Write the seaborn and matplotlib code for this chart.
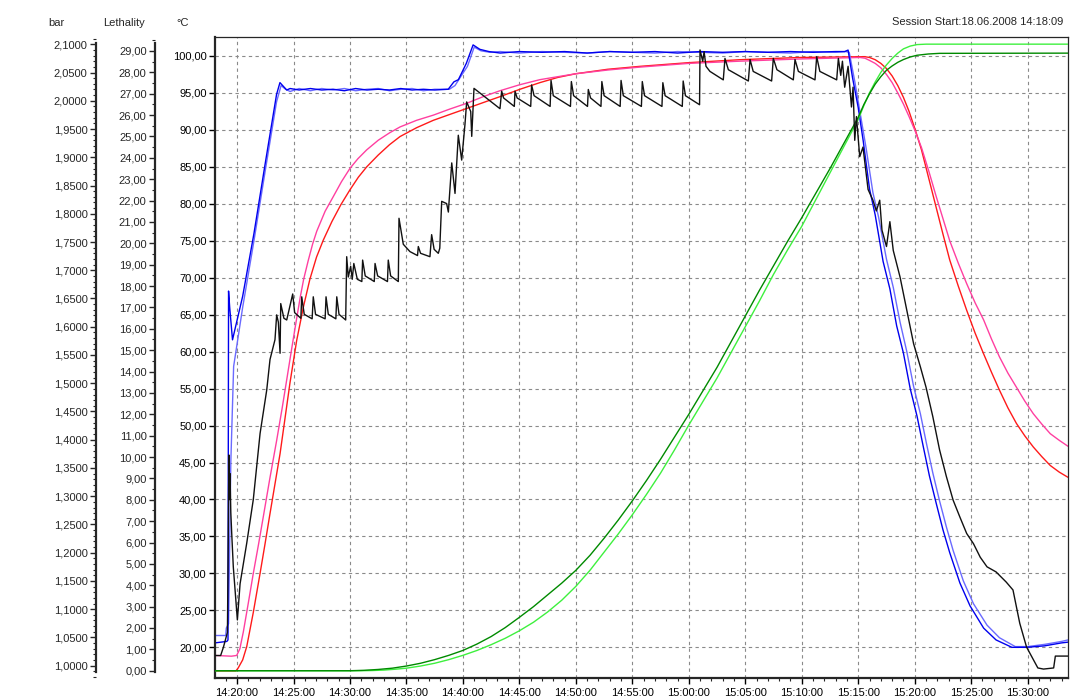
import matplotlib
matplotlib.use("Agg")
import matplotlib.pyplot as plt
import seaborn as sns
from matplotlib.ticker import MultipleLocator, FuncFormatter

# ---------------- data (time = minutes after 14:00) ----------------
# Temperature probe pair (deg C)
blue1_t = [18.05, 19.10, 19.20, 19.25, 19.35, 19.60, 20.50, 21.50, 22.50, 23.50, 23.80, 24.10, 24.40, 24.70,
           25.50, 26.50, 27.50, 28.50, 29.50, 30.50, 31.50, 32.50, 33.50, 34.50, 35.50, 36.50, 37.50, 38.70,
           39.20, 39.60, 40.30, 40.90, 41.50, 42.30, 43.30, 45.00, 47.00, 49.00, 51.00, 53.00, 55.00, 57.00,
           59.00, 61.00, 63.00, 65.00, 67.00, 69.00, 71.00, 73.00, 73.80, 74.10, 74.50, 75.00, 75.44, 76.00,
           76.50, 77.20, 77.80, 78.40, 79.00, 79.60, 80.20, 80.75, 81.30, 81.90, 82.50, 83.10, 84.00, 84.90,
           86.10, 87.20, 88.60, 89.90, 91.50, 93.00, 93.57]
blue1_c = [20.6, 20.8, 21.0, 68.2, 66.0, 61.6, 67.5, 76.0, 85.5, 94.8, 96.4, 95.9, 95.4, 95.6,
           95.4, 95.6, 95.4, 95.5, 95.3, 95.6, 95.4, 95.5, 95.4, 95.6, 95.4, 95.5, 95.4, 95.5,
           96.5, 96.8, 99.0, 101.5, 100.9, 100.6, 100.4, 100.6, 100.5, 100.6, 100.4, 100.6, 100.5, 100.6,
           100.4, 100.6, 100.5, 100.6, 100.5, 100.6, 100.5, 100.6, 100.6, 100.8, 97.0, 93.0, 88.5, 82.0,
           78.5, 72.2, 68.5, 63.5, 59.8, 55.0, 51.3, 47.2, 43.2, 39.5, 35.9, 32.8, 28.7, 25.6,
           22.6, 21.0, 20.0, 20.0, 20.2, 20.6, 20.7]

blue2_t = [18.05, 19.00, 19.05, 19.25, 19.45, 19.70, 20.50, 21.50, 22.50, 23.50, 23.90, 24.30, 24.70,
           25.50, 26.50, 27.50, 28.50, 29.50, 30.50, 31.50, 32.50, 33.50, 34.50, 35.50, 36.50, 37.50, 38.80,
           39.30, 39.80, 40.40, 41.00, 41.60, 42.40, 43.30, 45.00, 47.00, 49.00, 51.00, 53.00, 55.00, 57.00,
           59.00, 61.00, 63.00, 65.00, 67.00, 69.00, 71.00, 73.00, 73.90, 74.20, 74.70, 75.20, 75.70, 76.30,
           76.80, 77.50, 78.10, 78.70, 79.30, 79.90, 80.50, 81.05, 81.60, 82.20, 82.80, 83.40, 84.30, 85.20,
           86.40, 87.50, 88.90, 90.00, 91.50, 93.00, 93.57]
blue2_c = [21.6, 21.6, 22.6, 23.2, 45.0, 58.0, 66.0, 75.0, 84.5, 93.8, 96.0, 95.5, 95.2,
           95.6, 95.3, 95.6, 95.4, 95.6, 95.3, 95.5, 95.6, 95.3, 95.5, 95.6, 95.3, 95.5, 95.5,
           96.0, 97.2, 98.6, 101.2, 100.7, 100.5, 100.6, 100.4, 100.6, 100.5, 100.4, 100.6, 100.5, 100.4,
           100.6, 100.5, 100.4, 100.6, 100.5, 100.4, 100.6, 100.5, 100.6, 100.5, 96.5, 92.0, 87.5, 81.5,
           78.2, 72.5, 68.7, 64.0, 60.0, 55.3, 51.6, 47.5, 43.6, 39.8, 36.3, 33.1, 29.0, 25.9,
           23.0, 21.3, 20.1, 20.1, 20.4, 20.8, 21.0]

# Product core temperatures (deg C)
pink_t = [18.05, 19.50, 19.97, 20.25, 20.56, 21.00, 21.44, 21.90, 22.33, 22.90, 23.51, 24.00, 24.40, 24.85,
          25.28, 25.60, 25.90, 26.30, 26.70, 27.06, 27.80, 28.53, 29.25, 30.00, 30.70, 31.48, 32.50, 33.50,
          34.43, 35.90, 37.38, 38.80, 40.33, 41.80, 43.28, 45.00, 46.82, 48.40, 50.00, 52.80, 55.68, 60.00,
          64.53, 69.84, 75.15, 75.60, 76.00, 76.50, 77.00, 77.50, 78.00, 78.50, 79.00, 79.50, 80.05, 80.60,
          81.25, 81.90, 82.50, 83.10, 83.85, 84.60, 85.35, 86.10, 86.80, 87.50, 88.25, 89.00, 89.75, 90.50,
          91.25, 92.00, 92.80, 93.57]
pink_c = [18.9, 18.8, 18.9, 19.8, 22.1, 26.0, 30.0, 33.9, 37.7, 42.8, 48.0, 52.4, 56.2, 60.5,
          64.5, 67.4, 69.8, 72.3, 74.6, 76.3, 79.0, 81.0, 83.0, 84.8, 86.1, 87.3, 88.6, 89.6,
          90.4, 91.3, 92.0, 92.8, 93.6, 94.5, 95.3, 96.1, 96.8, 97.2, 97.6, 98.1, 98.5, 99.0,
          99.3, 99.6, 99.8, 99.7, 99.4, 99.0, 98.4, 97.5, 96.4, 95.0, 93.5, 91.8, 89.8, 87.6,
          84.4, 81.0, 78.0, 75.0, 72.0, 69.2, 66.6, 64.3, 61.7, 59.3, 57.1, 55.2, 53.3, 51.6,
          50.2, 48.9, 48.0, 47.2]

red_t = [18.05, 19.90, 20.10, 20.50, 20.86, 21.45, 22.04, 22.48, 22.92, 23.36, 23.81, 24.25, 24.69, 25.28,
         25.87, 26.45, 27.04, 27.64, 28.40, 29.20, 30.00, 30.74, 31.48, 32.50, 33.50, 34.43, 35.90, 37.38,
         38.85, 40.33, 41.80, 43.28, 45.05, 46.82, 48.40, 50.00, 52.80, 55.68, 60.00, 64.53, 69.84, 75.15,
         75.60, 76.00, 76.50, 77.00, 77.50, 78.00, 78.50, 79.00, 79.50, 80.05, 80.60, 81.25, 81.90, 82.50,
         83.10, 83.85, 84.60, 85.35, 86.10, 86.80, 87.50, 88.25, 89.00, 89.75, 90.50, 91.25, 92.00, 92.80,
         93.57]
red_c = [16.8, 16.8, 17.2, 18.3, 20.1, 24.8, 30.0, 34.0, 38.1, 42.1, 46.2, 51.0, 55.8, 61.5,
         66.0, 69.8, 72.8, 75.1, 77.6, 79.9, 81.9, 83.6, 85.0, 86.6, 88.0, 89.1, 90.3, 91.3,
         92.1, 92.9, 93.7, 94.5, 95.5, 96.4, 97.1, 97.6, 98.2, 98.6, 99.1, 99.5, 99.8, 99.9,
         99.9, 99.8, 99.5, 99.0, 98.3, 97.3, 96.0, 94.4, 92.5, 90.0, 87.3, 83.4, 79.5, 75.9,
         72.4, 68.9, 65.6, 62.5, 59.7, 57.2, 54.8, 52.4, 50.3, 48.6, 47.1, 45.8, 44.6, 43.7,
         43.0]

# Lethality (F value)
green_dark_t = [18.05, 30.00, 31.25, 32.50, 33.75, 35.00, 36.25, 37.50, 38.75, 40.00, 41.25, 42.50, 43.75,
                45.00, 46.25, 47.50, 48.75, 50.00, 51.25, 52.50, 53.75, 55.00, 56.25, 57.50, 58.75, 60.00,
                61.25, 62.50, 63.75, 65.00, 66.25, 67.50, 68.75, 70.00, 71.25, 72.50, 73.75, 75.00, 75.50,
                76.00, 76.50, 77.00, 77.50, 78.00, 78.50, 79.00, 79.60, 80.20, 81.20, 82.20, 93.57]
green_dark_l = [0.0, 0.0, 0.02, 0.06, 0.12, 0.22, 0.35, 0.52, 0.72, 0.95, 1.25, 1.6, 2.02,
                2.5, 3.0, 3.55, 4.1, 4.7, 5.4, 6.2, 7.05, 7.95, 8.9, 9.9, 10.95, 12.0,
                13.1, 14.2, 15.4, 16.6, 17.8, 18.95, 20.1, 21.2, 22.35, 23.5, 24.7, 25.9, 26.5,
                27.0, 27.45, 27.8, 28.1, 28.3, 28.47, 28.6, 28.72, 28.8, 28.86, 28.89, 28.9]
green_light_t = [18.05, 31.00, 32.00, 33.00, 34.00, 35.00, 36.25, 37.50, 38.75, 40.00, 41.25, 42.50, 43.75,
                 45.00, 46.25, 47.50, 48.75, 50.00, 51.25, 52.50, 53.75, 55.00, 56.25, 57.50, 58.75, 60.00,
                 61.25, 62.50, 63.75, 65.00, 66.25, 67.50, 68.75, 70.00, 71.25, 72.50, 73.75, 75.00, 75.50,
                 76.00, 76.50, 77.00, 77.50, 78.00, 78.50, 79.00, 79.60, 80.20, 81.00, 93.57]
green_light_l = [0.0, 0.0, 0.01, 0.03, 0.07, 0.12, 0.22, 0.35, 0.52, 0.72, 0.95, 1.22, 1.52,
                 1.87, 2.27, 2.75, 3.3, 3.95, 4.7, 5.55, 6.4, 7.3, 8.25, 9.25, 10.35, 11.5,
                 12.6, 13.7, 14.9, 16.1, 17.3, 18.55, 19.7, 20.8, 22.05, 23.3, 24.55, 25.8, 26.45,
                 27.05, 27.55, 28.0, 28.35, 28.65, 28.9, 29.1, 29.23, 29.3, 29.32, 29.32]

# Pressure (bar)
press_t = [18.05, 18.55, 18.80, 19.15, 19.22, 19.28, 19.33, 19.38, 19.45, 19.53, 19.67, 20.03, 20.27, 20.86,
           21.44, 22.04, 22.63, 22.92, 23.36, 23.51, 23.66, 23.81, 23.87, 24.15, 24.40, 24.93, 25.10, 25.65,
           25.73, 25.95, 26.65, 26.75, 26.95, 27.80, 27.88, 28.08, 28.75, 28.83, 29.03, 29.62, 29.71, 29.85,
           30.06, 30.20, 30.34, 30.65, 31.05, 31.12, 31.35, 32.15, 32.22, 32.45, 33.32, 33.39, 33.60, 34.28,
           34.34, 34.72, 35.31, 35.98, 36.05, 36.25, 37.08, 37.23, 37.45, 37.82, 37.95, 38.12, 38.56, 38.71,
           39.01, 39.30, 39.59, 39.89, 40.18, 40.33, 40.69, 40.78, 40.98, 43.28, 43.43, 43.60, 44.55, 44.61,
           44.80, 46.00, 46.08, 46.30, 47.72, 47.80, 48.00, 49.52, 49.60, 49.80, 51.03, 51.10, 51.30, 52.22,
           52.30, 52.50, 53.92, 54.00, 54.20, 55.80, 55.88, 56.08, 57.62, 57.70, 57.90, 59.42, 59.50, 59.70,
           60.95, 60.99, 61.23, 61.35, 61.52, 61.87, 63.05, 63.20, 63.50, 65.27, 65.42, 65.70, 67.33, 67.48,
           67.80, 69.25, 69.40, 69.70, 71.17, 71.32, 71.60, 73.09, 73.24, 73.45, 73.60, 73.80, 74.10, 74.40,
           74.54, 74.69, 74.84, 75.13, 75.42, 75.87, 76.30, 76.60, 76.90, 77.10, 77.50, 77.80, 78.10, 78.70,
           79.30, 79.90, 80.50, 81.00, 81.60, 82.20, 82.80, 83.40, 84.00, 84.60, 85.20, 85.80, 86.40, 87.20,
           88.10, 88.70, 89.30, 89.90, 90.50, 90.90, 91.40, 92.30, 92.45, 93.57]
press_bar = [1.018, 1.018, 1.033, 1.059, 1.216, 1.373, 1.294, 1.340, 1.271, 1.234, 1.175, 1.081, 1.145, 1.217,
             1.294, 1.411, 1.488, 1.542, 1.577, 1.621, 1.608, 1.553, 1.641, 1.615, 1.612, 1.658, 1.625, 1.615,
             1.653, 1.622, 1.614, 1.653, 1.622, 1.614, 1.653, 1.622, 1.614, 1.653, 1.622, 1.612, 1.724, 1.688,
             1.707, 1.684, 1.712, 1.684, 1.680, 1.718, 1.690, 1.680, 1.712, 1.690, 1.680, 1.718, 1.690, 1.680,
             1.792, 1.746, 1.733, 1.726, 1.742, 1.730, 1.724, 1.763, 1.737, 1.730, 1.739, 1.822, 1.818, 1.803,
             1.890, 1.836, 1.939, 1.895, 1.958, 1.998, 1.981, 1.937, 2.022, 1.986, 2.017, 2.005, 1.990, 2.017,
             2.005, 1.990, 2.028, 2.009, 1.990, 2.036, 2.009, 1.990, 2.034, 2.009, 1.990, 2.020, 2.005, 1.990,
             2.034, 2.009, 1.990, 2.036, 2.009, 1.990, 2.034, 2.009, 1.990, 2.032, 2.009, 1.990, 2.035, 2.009,
             1.993, 2.090, 2.070, 2.087, 2.061, 2.052, 2.037, 2.075, 2.055, 2.035, 2.073, 2.052, 2.035, 2.075,
             2.055, 2.037, 2.073, 2.052, 2.037, 2.078, 2.052, 2.037, 2.075, 2.045, 2.070, 2.024, 2.061, 1.989,
             2.024, 1.930, 1.972, 1.901, 1.918, 1.843, 1.824, 1.805, 1.824, 1.771, 1.742, 1.786, 1.735, 1.688,
             1.629, 1.570, 1.529, 1.493, 1.441, 1.382, 1.335, 1.293, 1.263, 1.234, 1.216, 1.192, 1.175, 1.166,
             1.148, 1.134, 1.075, 1.033, 1.011, 0.996, 0.994, 0.996, 1.017, 1.017]

session_text = "Session Start:18.06.2008 14:18:09"

# ---------------- style ----------------
sns.set_style("ticks")
plt.rcParams["font.family"] = ["Liberation Sans", "DejaVu Sans"]
plt.rcParams["font.size"] = 8

W, H = 1074, 700
fig = plt.figure(figsize=(W / 100, H / 100), dpi=100)
rect = [215 / W, 22 / H, 853 / W, 641 / H]
ax = fig.add_axes(rect)
ax_l = fig.add_axes(rect)
ax_b = fig.add_axes(rect)
for a in (ax_l, ax_b):
    a.patch.set_visible(False)

XMIN, XMAX = 18.05, 93.57


def comma(fmt):
    return FuncFormatter(lambda v, p: format(v, fmt).replace(".", ","))


def draw(axis, t, v, color, lw=1.0):
    sns.lineplot(x=t, y=v, ax=axis, color=color, linewidth=lw, estimator=None,
                 sort=False, legend=False)


# main (deg C) axis
draw(ax, red_t, red_c, "#ff1a1a")
draw(ax, pink_t, pink_c, "#ff3fa0")
draw(ax, blue2_t, blue2_c, "#6a6aff")
draw(ax, blue1_t, blue1_c, "#0000ee")
ax.set_xlim(XMIN, XMAX)
ax.set_ylim(15.85, 102.57)
ax.yaxis.set_major_locator(MultipleLocator(5))
ax.yaxis.set_major_formatter(comma(".2f"))
ax.xaxis.set_major_locator(MultipleLocator(5))
ax.xaxis.set_minor_locator(MultipleLocator(1))
ax.xaxis.set_major_formatter(FuncFormatter(
    lambda v, p: f"{14 + int(round(v)) // 60}:{int(round(v)) % 60:02d}:00"))
ax.grid(True, which="major", color="#8a8a8a", linestyle=(0, (3, 3)), linewidth=0.8)
ax.tick_params(axis="both", which="major", direction="out", length=4.5, width=1, pad=1.5,
               labelsize=8, colors="black")
ax.tick_params(axis="x", which="minor", direction="out", length=2.5, width=0.8)
ax.tick_params(axis="x", which="major", pad=2.5)
for s in ("left", "bottom"):
    ax.spines[s].set_linewidth(1.6)
for s in ("top", "right"):
    ax.spines[s].set_linewidth(0.9)
ax.set_xlabel("")
ax.set_ylabel("")

# lethality axis
draw(ax_l, green_light_t, green_light_l, "#3ef03e")
draw(ax_l, green_dark_t, green_dark_l, "#008a00")
ax_l.set_xlim(XMIN, XMAX)
ax_l.set_ylim(-0.34, 29.655)

# pressure axis
draw(ax_b, press_t, press_bar, "#111111")
ax_b.set_xlim(XMIN, XMAX)
ax_b.set_ylim(0.9782, 2.1129)

for a, pos, bounds, major, minor, fmt in (
        (ax_l, -60 / 853, (-0.06, 29.37), 1, 0.5, ".2f"),
        (ax_b, -119 / 853, (0.989, 2.1023), 0.05, 0.01, ".4f")):
    for s in ("top", "right", "bottom"):
        a.spines[s].set_visible(False)
    a.spines["left"].set_position(("axes", pos))
    a.spines["left"].set_linewidth(1.6)
    a.spines["left"].set_bounds(*bounds)
    a.yaxis.set_major_locator(MultipleLocator(major))
    a.yaxis.set_minor_locator(MultipleLocator(minor))
    a.yaxis.set_major_formatter(comma(fmt))
    a.tick_params(axis="y", which="major", direction="out", length=4.5, width=1, pad=1.5, labelsize=8)
    a.tick_params(axis="y", which="minor", direction="out", length=2, width=0.8)
    a.tick_params(axis="x", which="both", bottom=False, labelbottom=False)
    a.set_xlabel("")
    a.set_ylabel("")
    a.grid(False)

# header texts
fig.text(56 / W, 1 - 23 / H, "bar", ha="center", va="center", fontsize=8)
fig.text(124.5 / W, 1 - 23 / H, "Lethality", ha="center", va="center", fontsize=8)
fig.text(182.5 / W, 1 - 23 / H, "°C", ha="center", va="center", fontsize=8)
fig.text(1063 / W, 1 - 22 / H, session_text, ha="right", va="center", fontsize=8)

fig.savefig("out.png", dpi=100, facecolor="white")
